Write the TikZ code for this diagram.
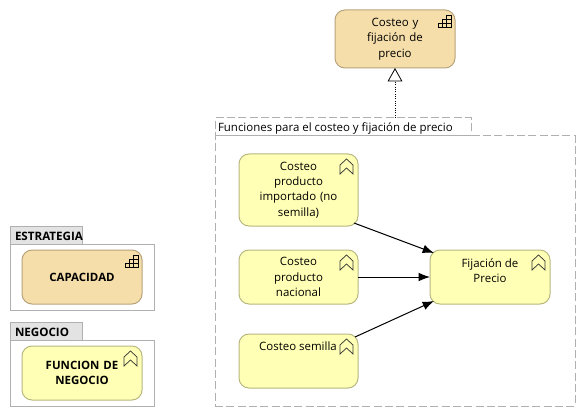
\documentclass[tikz,border=0pt]{standalone}
\usepackage{fontspec}
\setmainfont{Open Sans}
\usetikzlibrary{arrows.meta}
\definecolor{capfill}{HTML}{F5DEAA}
\definecolor{capline}{HTML}{B8A47C}
\definecolor{funfill}{HTML}{FFFFB5}
\definecolor{funline}{HTML}{B8B880}
\definecolor{grpline}{HTML}{B0B0B0}
\definecolor{tabfill}{HTML}{E3E3E3}
\tikzset{
  every node/.style={outer sep=0pt},
  elem/.style={draw, line width=.75pt, rounded corners=7.5pt, inner sep=0pt, align=center, font=\fontsize{8.6pt}{11.5pt}\selectfont, text=black, anchor=north west},
  capbox/.style={elem, fill=capfill, draw=capline},
  funbox/.style={elem, fill=funfill, draw=funline},
  txt/.style={inner sep=0pt, align=center, font=\fontsize{8.6pt}{11.5pt}\selectfont, text=black},
  grp/.style={draw=grpline, line width=.75pt, fill=white, inner sep=0pt, anchor=north west},
  grpdash/.style={grp, dash pattern=on 6pt off 2.5pt},
  tabbox/.style={grp, fill=tabfill},
  tabtext/.style={txt, font=\fontsize{8.7pt}{11.5pt}\selectfont\bfseries, anchor=west},
  flow/.style={draw=black, line width=.75pt, -{Latex[length=8.5pt,width=6.5pt]}},
  capicon/.pic={
    \draw[black, line width=.6pt] (-17,17) -- (-4,17) -- (-4,5) -- (-8.3,5) -- (-8.3,17)
      (-12.7,17) -- (-12.7,9) -- (-4,9) (-17,17) -- (-17,13) -- (-4,13);
  },
  funicon/.pic={
    \draw[black!80, line width=.55pt, line join=miter] (-11.5,5) -- (-5,11) -- (-5,20) -- (-11.5,14) -- (-18,20) -- (-18,11) -- cycle;
  }
}
\newcommand{\boxat}[6]{\node[#1, minimum width=#4*0.75pt, minimum height=#5*0.75pt, text width=#4*0.75pt] (#2) at #3 {#6};}
\begin{document}
\begin{tikzpicture}[x=0.75pt,y=-0.75pt]
\useasboundingbox[fill=white] (0,0) rectangle (585,417);

% group
\boxat{grpdash}{grptab}{(215,118)}{256}{18}{}
\boxat{grpdash}{grpbody}{(215,136)}{360}{270}{}
\node[txt, anchor=west] (grplabel) at (218,128) {Funciones para el costeo y fijación de precio};

% top
\boxat{capbox}{top}{(335,10)}{120}{58}{Costeo y\\fijación de\\precio}
\pic at (top.north east) {capicon};

% functions
\boxat{funbox}{fa}{(239,154)}{119}{72}{Costeo\\producto\\importado (no\\semilla)}
\pic at (fa.north east) {funicon};
\boxat{funbox}{fb}{(239,250)}{119}{54}{Costeo\\producto\\nacional}
\pic at (fb.north east) {funicon};
\boxat{funbox}{fc}{(239,334)}{119}{54}{}
\node[txt] (fctext) at (298,346) {Costeo semilla};
\pic at (fc.north east) {funicon};
\boxat{funbox}{fd}{(430,250)}{120}{54}{}
\node[txt] (fdtext) at (490,270.5) {Fijación de\\Precio};
\pic at (fd.north east) {funicon};

% connectors
\draw[flow] ([shift={(-4,-3)}]fa.south east) -- ([shift={(4,3)}]fd.north west);
\draw[flow] (fb.east) -- (fd.west);
\draw[flow] ([shift={(-3,3)}]fc.north east) -- ([shift={(4,-3)}]fd.south west);
\draw[black, line width=.75pt, densely dotted, -{Triangle[open,fill=white,length=10pt,width=11pt,line width=.6pt]}] (grptab.north -| top.south) -- (top.south);

% legend
\boxat{tabbox}{esttab}{(10,226)}{72}{18}{}
\boxat{grp}{estbody}{(10,244)}{144}{66}{}
\node[tabtext] (estlabel) at (15,236) {ESTRATEGIA};
\boxat{capbox}{cap}{(22,250)}{120}{54}{\bfseries CAPACIDAD}
\pic at (cap.north east) {capicon};

\boxat{tabbox}{negtab}{(10,322)}{72}{18}{}
\boxat{grp}{negbody}{(10,340)}{144}{66}{}
\node[tabtext] (neglabel) at (15,332) {NEGOCIO};
\boxat{funbox}{fun}{(22,346)}{120}{54}{\bfseries FUNCION DE\\\bfseries NEGOCIO}
\pic at (fun.north east) {funicon};
\end{tikzpicture}
\end{document}
